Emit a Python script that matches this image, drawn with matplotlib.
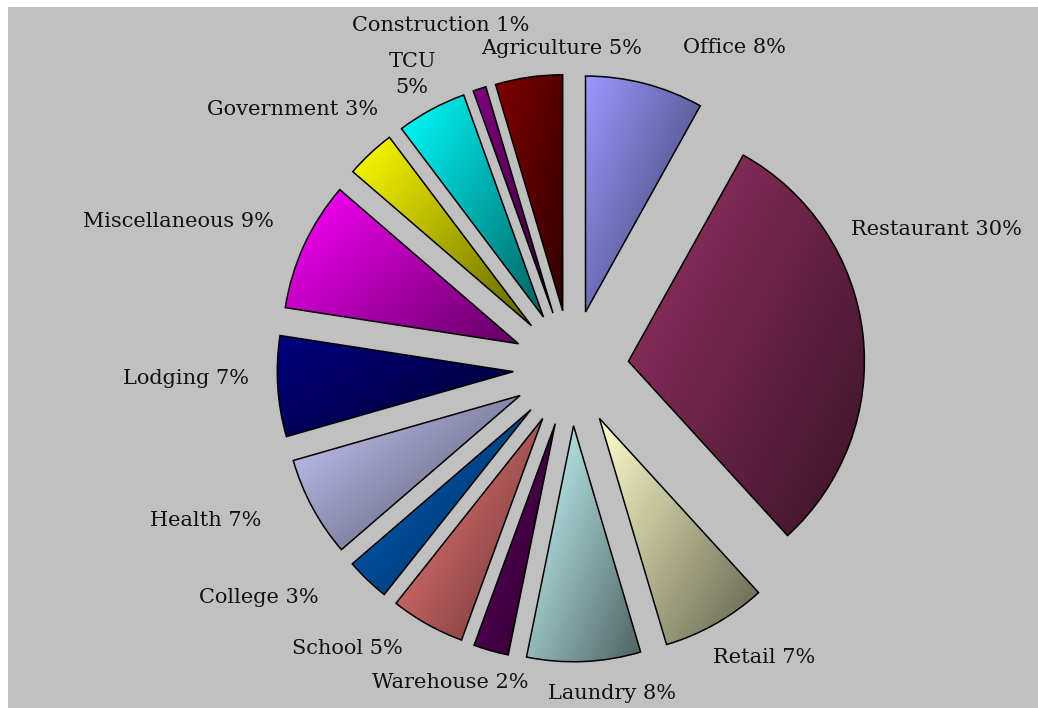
import numpy as np
import matplotlib
matplotlib.use("Agg")
import matplotlib.pyplot as plt
from matplotlib.colors import to_rgb
from matplotlib.patches import Rectangle

# Share of establishments by business type (percent)
categories = ["Office", "Restaurant", "Retail", "Laundry", "Warehouse", "School",
              "College", "Health", "Lodging", "Miscellaneous", "Government",
              "TCU", "Construction", "Agriculture"]
shares = [8.1, 30.2, 7.2, 7.8, 2.4, 5.1, 3.0, 6.9, 6.9, 8.9, 3.4, 4.8, 0.9, 4.6]
colors = ["#9999FF", "#993366", "#FFFFCC", "#CCFFFF", "#660066", "#FF8080",
          "#0066CC", "#CCCCFF", "#000080", "#FF00FF", "#FFFF00", "#00FFFF",
          "#800080", "#800000"]
two_line_labels = {"TCU"}

# Label placement: distance from centre (in pie radii) and angular nudge (deg)
label_dist = [1.524, 1.657, 1.477, 1.392, 1.428, 1.521, 1.642, 1.678, 1.630,
              1.778, 1.610, 1.415, 1.554, 1.356]
label_nudge = [12.55, -14.05, -4.24, -4.59, 5.19, 9.32, 9.77, 5.78, 2.09,
               -4.29, -3.92, -0.02, -2.66, 6.66]

W, H, DPI = 1038, 708, 100
fig = plt.figure(figsize=(W / DPI, H / DPI), dpi=DPI, facecolor="white")

# axes spanning the figure; one data unit equals the pie radius
R_PX, CX, CY = 236.0, 571.0, 368.0
ax = fig.add_axes([0, 0, 1, 1])
ax.set_axis_off()
ax.patch.set_visible(False)

# grey chart area with a thin white margin on the top and left
ax.add_patch(Rectangle((8 / W, 0), 1, (H - 7) / H, transform=ax.transAxes,
                       facecolor="#C0C0C0", edgecolor="none", zorder=0))

wedges, _ = ax.pie(shares, explode=[0.245] * len(shares), startangle=90,
                   counterclock=False, radius=1.0, center=(0, 0),
                   wedgeprops=dict(edgecolor="black", linewidth=1.1))

# shaded fill: light at the upper-left of each wedge, darker to the lower-right
ny = nx = 200
u = np.linspace(0, 1, nx)[None, :]
v = np.linspace(0, 1, ny)[:, None]
t = 0.55 * u + 0.45 * v
shade = 1.0 - 0.62 * t
for w, c in zip(wedges, colors):
    base = np.array(to_rgb(c))
    img = np.clip(shade[..., None] * base[None, None, :], 0, 1)
    ext = w.get_path().get_extents()
    im = ax.imshow(img, extent=(ext.x0, ext.x1, ext.y0, ext.y1), origin="upper",
                   interpolation="bilinear", zorder=1, aspect="auto")
    im.set_clip_path(w)
    w.set_facecolor("none")
    w.set_zorder(2)

ax.set_xlim(-CX / R_PX, (W - CX) / R_PX)
ax.set_ylim(-(H - CY) / R_PX, CY / R_PX)

total = float(sum(shares))
cum = 0.0
for cat, s, d, dn in zip(categories, shares, label_dist, label_nudge):
    mid = 360.0 * (cum + s / 2.0) / total
    cum += s
    pct = "%.0f%%" % (100.0 * s / total)
    sep = "\n" if cat in two_line_labels else " "
    a = np.radians(mid + dn)
    ax.text(d * np.sin(a), d * np.cos(a), cat + sep + pct, ha="center", va="center",
            fontsize=15, family="DejaVu Serif", color="#111111",
            linespacing=1.45, zorder=3)

fig.savefig("out.png", dpi=DPI, facecolor="white")
